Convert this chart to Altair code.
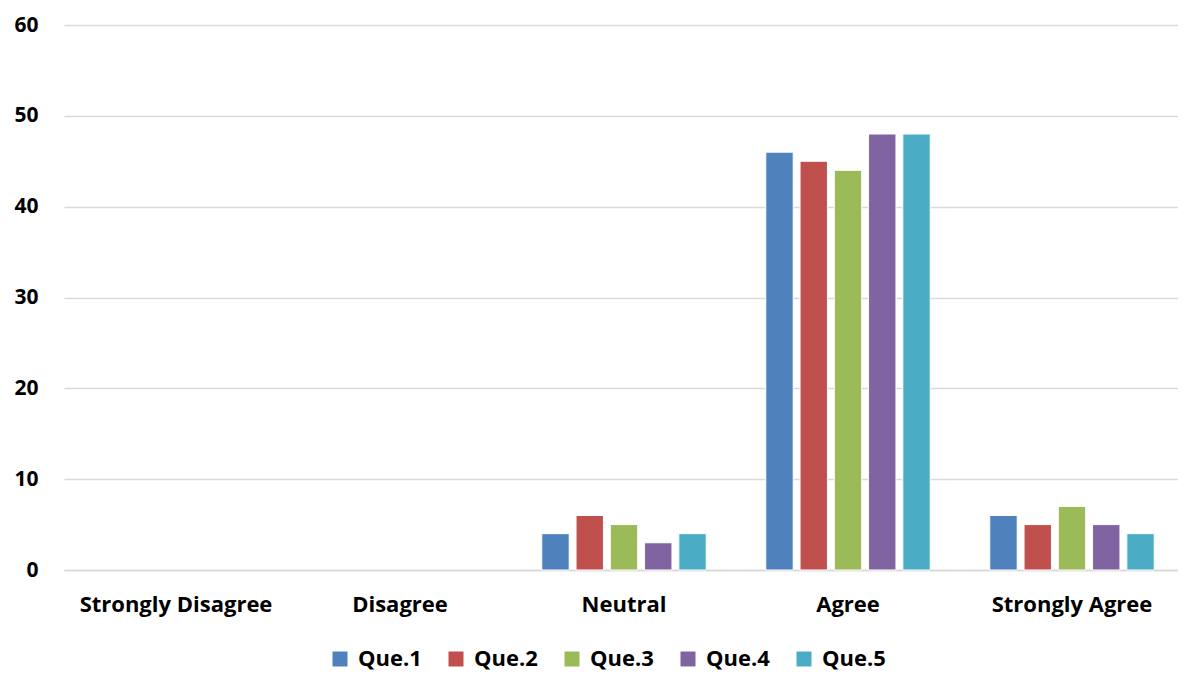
import altair as alt
import pandas as pd

categories = ["Strongly Disagree", "Disagree", "Neutral", "Agree", "Strongly Agree"]
series = ["Que.1", "Que.2", "Que.3", "Que.4", "Que.5"]
values = {
    "Que.1": [0, 0, 4, 46, 6],
    "Que.2": [0, 0, 6, 45, 5],
    "Que.3": [0, 0, 5, 44, 7],
    "Que.4": [0, 0, 3, 48, 5],
    "Que.5": [0, 0, 4, 48, 4],
}
colors = ["#4F81BD", "#C0504D", "#9BBB59", "#8064A2", "#4BACC6"]

rows = []
for s in series:
    for c, v in zip(categories, values[s]):
        rows.append({"category": c, "series": s, "value": v})
df = pd.DataFrame(rows)

FONT = "Open Sans"

chart = alt.Chart(df).transform_filter(alt.datum.value > 0).mark_bar(stroke="white", strokeWidth=1).encode(
    x=alt.X("category:N", sort=categories, title=None,
            scale=alt.Scale(domain=categories, paddingInner=0.266, paddingOuter=0.133),
            axis=alt.Axis(labelAngle=0, labelFont=FONT, labelFontSize=22, labelFontWeight="bold",
                          labelColor="black", ticks=False, domainColor="#d9d9d9", domainWidth=1.5,
                          labelPadding=24, labelLimit=0, grid=False)),
    xOffset=alt.XOffset("series:N", sort=series,
                        scale=alt.Scale(domain=series, paddingInner=0.2, paddingOuter=0)),
    y=alt.Y("value:Q", title=None,
            scale=alt.Scale(domain=[0, 60]),
            axis=alt.Axis(values=[0, 10, 20, 30, 40, 50, 60], labelFont=FONT, labelFontSize=21,
                          labelFontWeight="bold", labelColor="black", ticks=False, domain=False,
                          gridColor="#d9d9d9", gridWidth=1.5, labelPadding=26, minExtent=56)),
    color=alt.Color("series:N", sort=series, scale=alt.Scale(domain=series, range=colors),
                    legend=alt.Legend(title=None, orient="none", legendX=265, legendY=623,
                                      direction="horizontal",
                                      symbolType="square", symbolSize=225, symbolStrokeWidth=0,
                                      labelFont=FONT, labelFontSize=22, labelFontWeight="bold",
                                      labelColor="black", columnPadding=23, labelOffset=7)),
).properties(
    width=1120, height=545,
    padding={"left": 0, "top": 6, "right": -6, "bottom": 2},
).configure_view(stroke=None)

chart.save("out.html", embed_options={"renderer": "svg", "actions": False})
